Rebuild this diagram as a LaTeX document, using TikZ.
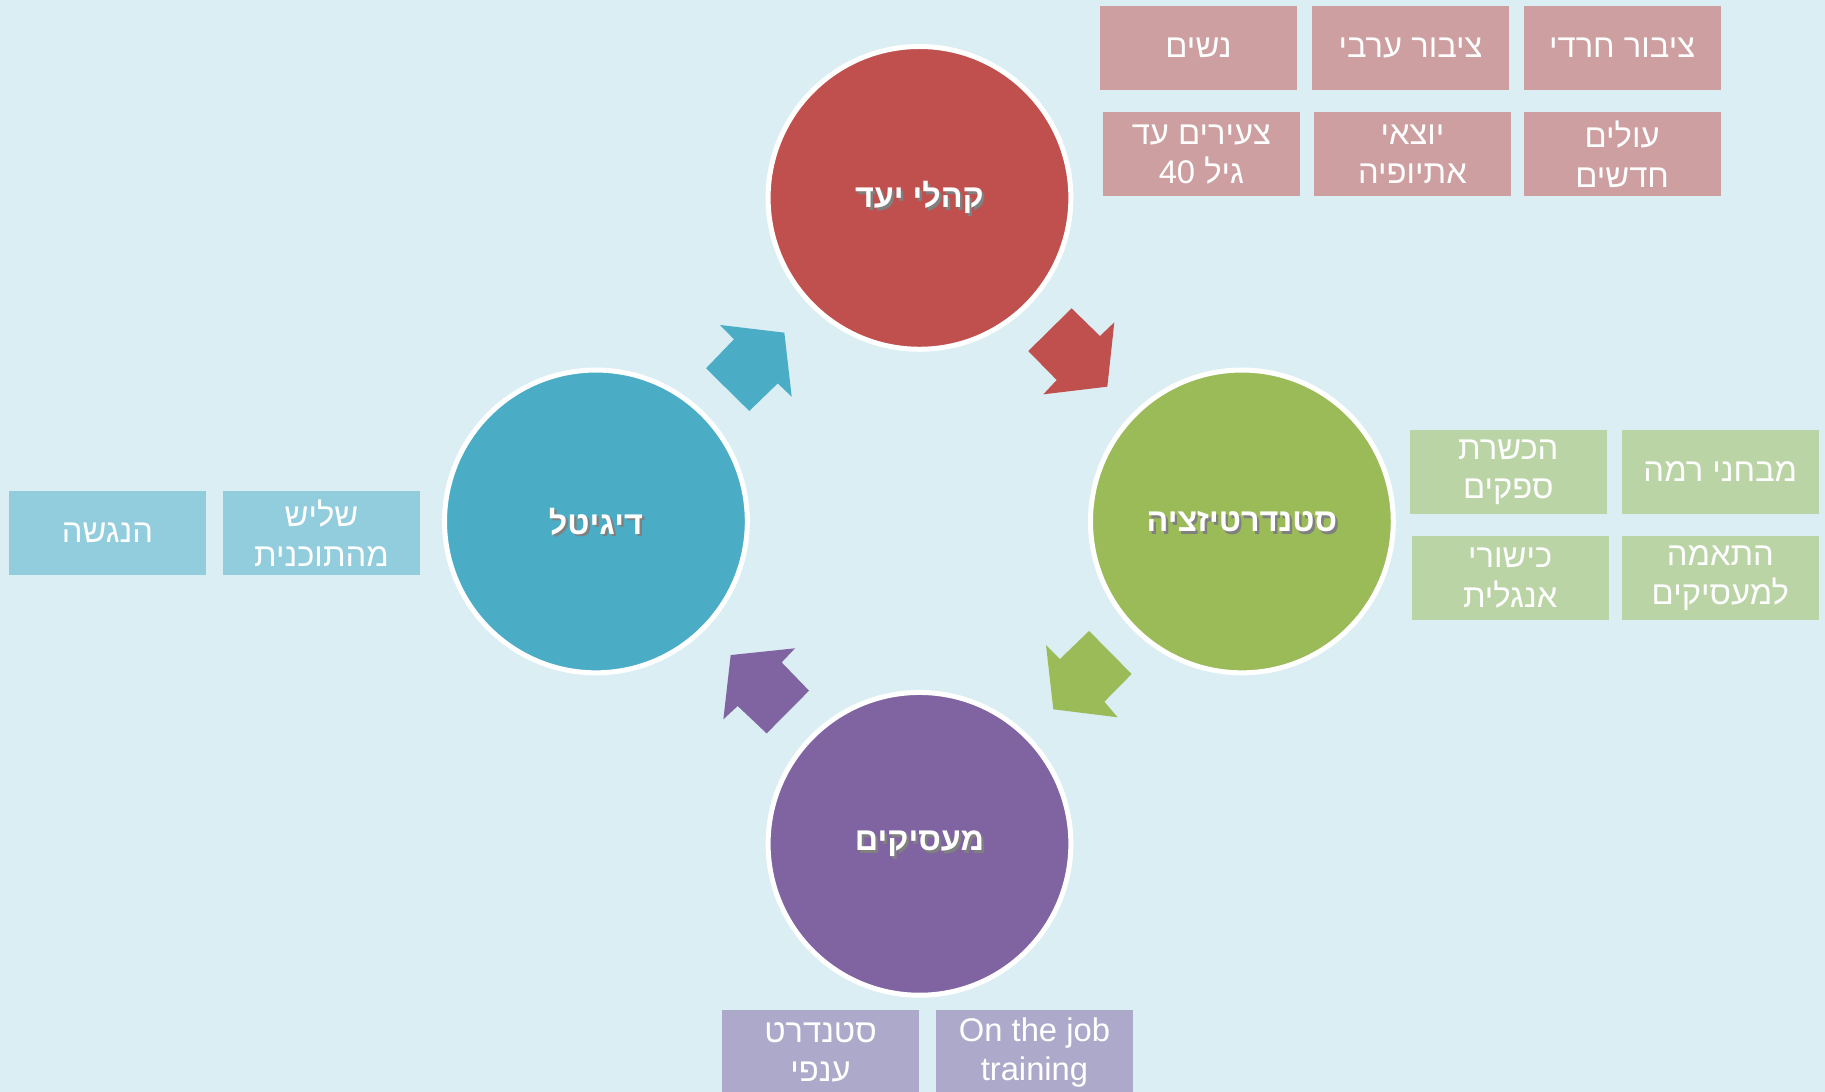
\documentclass[tikz,border=0pt]{standalone}
\usepackage{fontspec}
\usepackage{tikz}
\newfontfamily\hebfont[Script=Hebrew]{Liberation Sans}
\TeXXeTstate=1

\definecolor{bgblue}{HTML}{DAEEF3}
\definecolor{cred}{HTML}{C0504D}
\definecolor{cgreen}{HTML}{9BBB59}
\definecolor{cblue}{HTML}{4BACC6}
\definecolor{cpurple}{HTML}{8064A2}

\newcommand\shadowed[1]{\makebox[0pt][l]{\raisebox{-0.7pt}[0pt][0pt]{\hspace*{0.6pt}\textcolor{black!50}{#1}}}#1}

\begin{document}
\begin{tikzpicture}[x=0.01cm,y=-0.01cm,
    hub/.style={circle,draw=white,line width=0.043cm,minimum size=2.6cm,inner sep=0pt,text=white,font=\hebfont\bfseries\fontsize{7.9}{9.5}\selectfont},
    tag/.style={minimum width=1.693cm,minimum height=0.72cm,inner sep=0pt,align=center,text=white,font=\hebfont\fontsize{8}{9.6}\selectfont}]
        % --- Background ---
        \useasboundingbox (0,0) rectangle (1568,938);
        \clip (0,0) rectangle (1568,938);
        \fill[bgblue] (0,0) rectangle (1568,938);
        % ---

        % --- Draw the four circles ---
        \node[hub,fill=cred] (target) at (790,170) {\shadowed{\beginR קהלי יעד\endR}};
        \node[hub,fill=cgreen] (standard) at (1067,448) {\shadowed{\beginR סטנדרטיזציה\endR}};
        \node[hub,fill=cpurple] (employers) at (790,725) {\shadowed{\beginR מעסיקים\endR}};
        \node[hub,fill=cblue] (digital) at (512,448) {\shadowed{\beginR דיגיטל\endR}};
        % ---

        % --- Draw block arrows between circles ---
        \fill[cred] (883.5,301.6) -- (920.7,264.9) -- (945.1,288.7) -- (957.4,276.9) -- (951.4,332.2) -- (896.4,338.8) -- (907.9,326.5) -- cycle;
        \fill[cgreen] (935.7,542.1) -- (972.3,579.1) -- (948.8,602.9) -- (960.3,616.3) -- (905.0,609.4) -- (898.7,554.2) -- (910.7,566.2) -- cycle;
        \fill[cpurple] (695.1,593.4) -- (658.7,630.1) -- (633.8,606.6) -- (621.5,618.0) -- (627.8,562.8) -- (683.1,557.0) -- (671.6,569.1) -- cycle;
        \fill[cblue] (606.6,316.4) -- (643.8,353.1) -- (668.2,329.4) -- (680.2,340.8) -- (673.9,285.8) -- (618.6,279.2) -- (630.6,291.5) -- cycle;
        % ---

        % --- Target group boxes ---
        \node[tag,fill=cred!50!bgblue] (women) at (1029.7,41.3) {\beginR נשים\endR};
        \node[tag,fill=cred!50!bgblue] (arab) at (1211.9,41.3) {\beginR ציבור ערבי\endR};
        \node[tag,fill=cred!50!bgblue] (haredi) at (1393.7,41.3) {\beginR ציבור חרדי\endR};
        \node[tag,fill=cred!50!bgblue] (young) at (1032.2,132.5) {\beginR צעירים עד\endR\\\beginR גיל \beginL 40\endL\endR};
        \node[tag,fill=cred!50!bgblue] (ethiopia) at (1213.6,132.5) {\beginR יוצאי\endR\\\beginR אתיופיה\endR};
        \node[tag,fill=cred!50!bgblue] (olim) at (1393.7,132.5) {\beginR עולים\endR\\\beginR חדשים\endR};
        % ---

        % --- Standardization boxes ---
        \node[tag,fill=cgreen!50!bgblue] (suppliers) at (1295.9,405.5) {\beginR הכשרת\endR\\\beginR ספקים\endR};
        \node[tag,fill=cgreen!50!bgblue] (tests) at (1478.1,405.5) {\beginR מבחני רמה\endR};
        \node[tag,fill=cgreen!50!bgblue] (english) at (1297.5,496.6) {\beginR כישורי\endR\\\beginR אנגלית\endR};
        \node[tag,fill=cgreen!50!bgblue] (fit) at (1478.1,496.6) {\beginR התאמה\endR\\\beginR למעסיקים\endR};
        % ---

        % --- Digital boxes ---
        \node[tag,fill=cblue!50!bgblue] (access) at (92.3,458) {\beginR הנגשה\endR};
        \node[tag,fill=cblue!50!bgblue] (third) at (276.2,458) {\beginR שליש\endR\\\beginR מהתוכנית\endR};
        % ---

        % --- Employer boxes ---
        \node[tag,fill=cpurple!50!bgblue] (sector) at (705,904) {\beginR סטנדרט\endR\\\beginR ענפי\endR};
        \node[tag,fill=cpurple!50!bgblue] (onjob) at (888.8,904) {On the job\\training};
        % ---
    \end{tikzpicture}
\end{document}
